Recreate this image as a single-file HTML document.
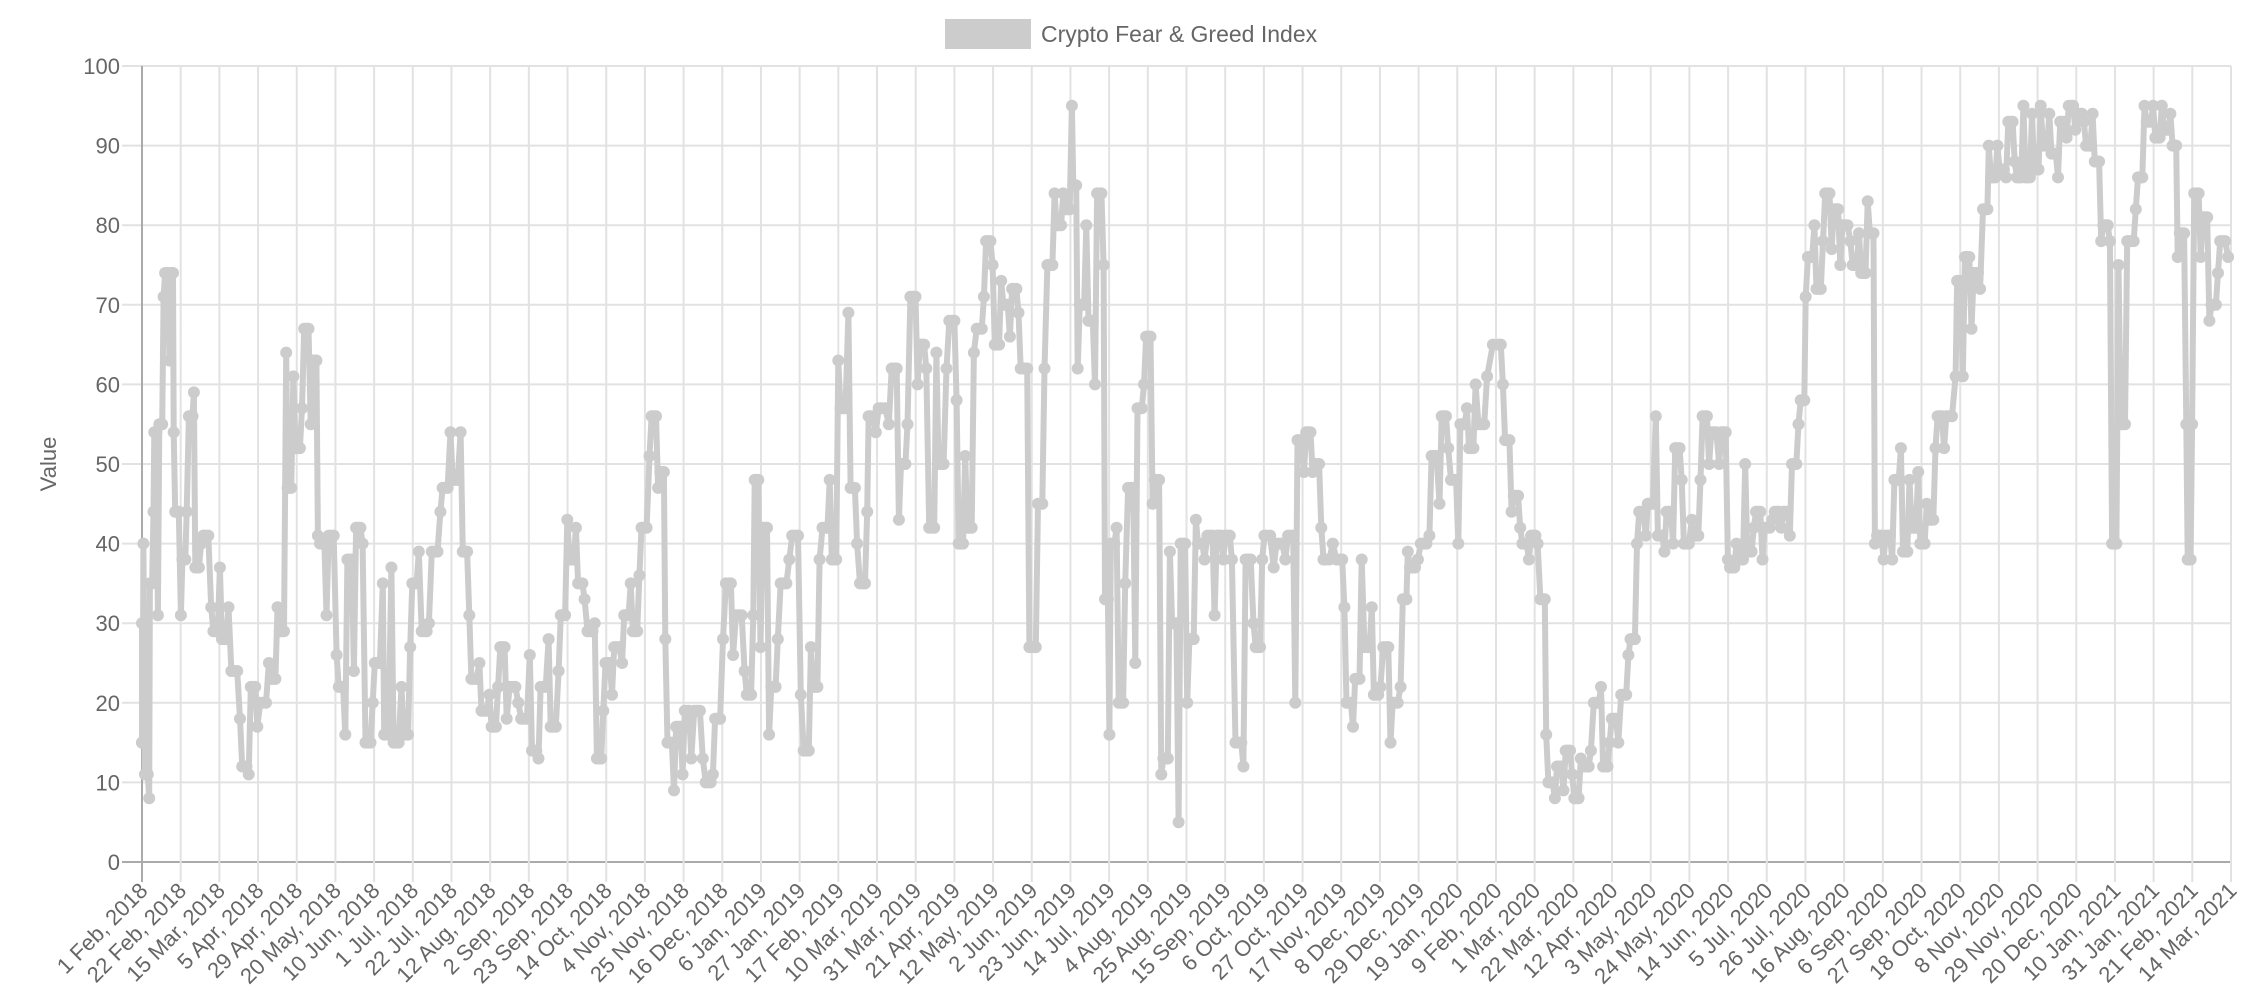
<!DOCTYPE html>
<html><head><meta charset="utf-8"><style>
html,body{margin:0;padding:0;background:#fff;width:2260px;height:1008px;overflow:hidden}
svg{display:block;font-family:"Liberation Sans",sans-serif}
</style></head><body>
<svg id="c" width="2260" height="1008" xmlns="http://www.w3.org/2000/svg">
<rect x="945" y="19" width="86" height="30" fill="#ccc"/>
<text x="1041" y="42" font-size="23" fill="#666">Crypto Fear &amp; Greed Index</text>
<text x="0" y="0" font-size="22" fill="#666" text-anchor="middle" transform="translate(56,464) rotate(-90)">Value</text>
<g id="grid"></g><g id="data"></g>
</svg>
<script>
var NS="http://www.w3.org/2000/svg";
function el(t,a,p,txt){var e=document.createElementNS(NS,t);for(var k in a)e.setAttribute(k,a[k]);if(txt!=null)e.textContent=txt;p.appendChild(e);return e;}
var g=document.getElementById('grid'),d=document.getElementById('data');
var L=142,R=2231,T=66,B=862;
function Y(v){return B-v*(B-T)/100;}
for(var v=0;v<=100;v+=10){var y=Y(v);
 el('line',{x1:122,x2:R,y1:y,y2:y,stroke:v==0?'#aaa':'#e2e2e2','stroke-width':2},g);
 el('text',{x:120,y:y+8,'font-size':22,fill:'#666','text-anchor':'end'},g,String(v));}
var labs=["1 Feb, 2018","22 Feb, 2018","15 Mar, 2018","5 Apr, 2018","29 Apr, 2018","20 May, 2018","10 Jun, 2018","1 Jul, 2018","22 Jul, 2018","12 Aug, 2018","2 Sep, 2018","23 Sep, 2018","14 Oct, 2018","4 Nov, 2018","25 Nov, 2018","16 Dec, 2018","6 Jan, 2019","27 Jan, 2019","17 Feb, 2019","10 Mar, 2019","31 Mar, 2019","21 Apr, 2019","12 May, 2019","2 Jun, 2019","23 Jun, 2019","14 Jul, 2019","4 Aug, 2019","25 Aug, 2019","15 Sep, 2019","6 Oct, 2019","27 Oct, 2019","17 Nov, 2019","8 Dec, 2019","29 Dec, 2019","19 Jan, 2020","9 Feb, 2020","1 Mar, 2020","22 Mar, 2020","12 Apr, 2020","3 May, 2020","24 May, 2020","14 Jun, 2020","5 Jul, 2020","26 Jul, 2020","16 Aug, 2020","6 Sep, 2020","27 Sep, 2020","18 Oct, 2020","8 Nov, 2020","29 Nov, 2020","20 Dec, 2020","10 Jan, 2021","31 Jan, 2021","21 Feb, 2021","14 Mar, 2021"];
for(var i=0;i<labs.length;i++){var x=L+i*(R-L)/54;
 el('line',{x1:x,x2:x,y1:T,y2:882,stroke:i==0?'#aaa':'#e2e2e2','stroke-width':2},g);
 el('text',{x:0,y:0,'font-size':22,fill:'#666','text-anchor':'end',transform:'translate('+(x+7)+',892) rotate(-45)'},g,labs[i]);}
var raw="98:30,99:15,100:40,102:11,104:8,105:35,107:44,108:54,110:31,112:55,114:71,116:74,118:63,120:74,121:54,123:44,126:31,128:38,130:44,133:56,135:59,137:37,140:40,143:41,147:32,150:29,153:37,156:28,159:32,163:24,167:18,170:12,173:11,176:22,179:17,183:20,187:25,190:23,193:32,196:29,199:64,201:47,204:61,207:52,210:57,213:67,216:55,219:63,221:41,224:40,227:31,230:41,234:26,237:22,240:16,243:38,246:24,249:42,252:40,256:15,259:20,262:25,266:35,268:16,272:37,275:15,279:22,282:16,285:27,288:35,291:39,295:29,298:30,302:39,306:44,309:47,313:54,316:48,320:54,323:39,326:31,329:23,333:25,336:19,340:21,343:17,346:22,349:27,352:18,356:22,360:20,364:18,368:26,371:14,374:13,377:22,381:28,384:17,388:24,391:31,394:43,397:38,400:42,403:35,406:33,410:29,413:30,416:13,419:19,422:25,425:21,428:27,432:25,435:31,438:35,441:29,444:36,447:42,451:51,454:56,457:47,460:49,462:28,465:15,468:9,471:17,474:11,477:19,480:13,484:19,488:13,492:10,495:11,498:18,502:28,506:35,509:26,513:31,517:24,520:21,523:31,525:48,528:27,531:42,534:16,537:22,540:28,544:35,548:38,552:41,556:21,560:14,563:27,566:22,569:38,573:42,576:48,579:38,582:63,585:57,589:69,592:47,595:40,599:35,602:44,604:56,608:54,612:57,617:55,621:62,624:43,627:50,630:55,634:71,637:60,640:65,643:62,647:42,650:64,653:50,657:62,661:68,664:58,667:40,670:51,673:42,676:64,680:67,683:71,686:78,689:75,692:65,695:73,698:70,701:66,704:72,707:69,710:62,713:62,716:27,719:27,722:45,725:62,729:75,732:84,735:80,738:84,741:82,744:95,746:85,748:62,751:70,754:80,757:68,760:60,763:84,766:75,768:33,770:16,772:40,775:42,778:20,781:35,785:47,788:25,791:57,794:60,797:66,800:45,803:48,806:11,809:13,812:39,815:30,818:5,821:40,824:20,827:28,830:43,833:40,836:38,840:41,843:31,846:41,849:38,852:41,855:38,860:15,863:12,866:38,870:30,873:27,876:38,879:41,884:37,888:40,892:38,896:41,899:20,902:53,905:49,908:54,911:49,914:50,917:42,920:38,925:40,930:38,933:32,936:20,939:17,942:23,945:38,949:27,952:32,955:21,958:22,962:27,965:15,968:20,972:22,975:33,977:39,980:37,984:38,988:40,992:41,995:51,999:45,1002:56,1005:52,1009:48,1012:40,1015:55,1018:57,1021:52,1024:60,1028:55,1032:61,1040:65,1043:60,1046:53,1049:44,1052:46,1055:42,1058:40,1061:38,1064:41,1067:40,1071:33,1073:16,1076:10,1079:8,1082:12,1085:9,1088:14,1091:11,1094:8,1097:13,1101:12,1104:14,1108:20,1111:22,1114:12,1117:15,1120:18,1123:15,1127:21,1130:26,1133:28,1136:40,1139:44,1142:41,1145:45,1149:56,1152:41,1155:39,1158:44,1161:40,1164:52,1167:48,1170:40,1174:43,1177:41,1180:48,1183:56,1186:50,1189:54,1193:50,1196:54,1199:38,1202:37,1205:40,1208:38,1211:50,1214:39,1217:42,1220:44,1223:38,1226:42,1230:43,1233:44,1236:42,1239:44,1242:41,1245:50,1248:55,1251:58,1253:71,1256:76,1259:80,1262:72,1265:78,1268:84,1271:77,1274:82,1277:75,1280:80,1284:78,1287:75,1290:79,1293:74,1296:83,1299:79,1301:40,1304:41,1307:38,1310:41,1313:38,1316:48,1319:52,1322:39,1325:48,1328:42,1331:49,1334:40,1337:45,1340:43,1343:52,1346:56,1349:52,1352:56,1357:61,1359:73,1362:61,1365:76,1368:67,1371:74,1374:72,1378:82,1380:90,1383:86,1386:90,1389:87,1392:86,1395:93,1398:88,1401:86,1404:95,1407:86,1410:94,1413:87,1416:95,1419:90,1422:94,1425:89,1428:86,1431:93,1434:91,1437:95,1440:92,1443:94,1446:93,1449:90,1452:94,1455:88,1458:78,1461:80,1464:78,1467:40,1470:75,1473:55,1476:78,1479:78,1482:82,1485:86,1488:95,1491:93,1494:95,1497:91,1500:95,1503:92,1506:94,1509:90,1511:76,1514:79,1517:55,1519:38,1521:55,1524:84,1527:76,1530:81,1533:68,1536:70,1539:74,1542:78,1546:76";
var pts=raw.split(',').map(function(s){var a=s.split(':');return [L+(Math.max(99,+a[0])-99)*(R-L)/1449,Y(+a[1])];});
var dense=[];
for(var i=0;i<pts.length;i++){dense.push(pts[i]);
 if(i<pts.length-1){var a=pts[i],b=pts[i+1];dense.push([(a[0]+b[0])/2,(i%2?a[1]:b[1])]);}}
el('polyline',{points:dense.map(function(p){return p[0].toFixed(1)+','+p[1].toFixed(1)}).join(' '),fill:'none',stroke:'#ccc','stroke-width':6,'stroke-linejoin':'round'},d);
dense.forEach(function(p){el('circle',{cx:p[0].toFixed(1),cy:p[1].toFixed(1),r:6,fill:'#ccc'},d);});
</script>
</body></html>
